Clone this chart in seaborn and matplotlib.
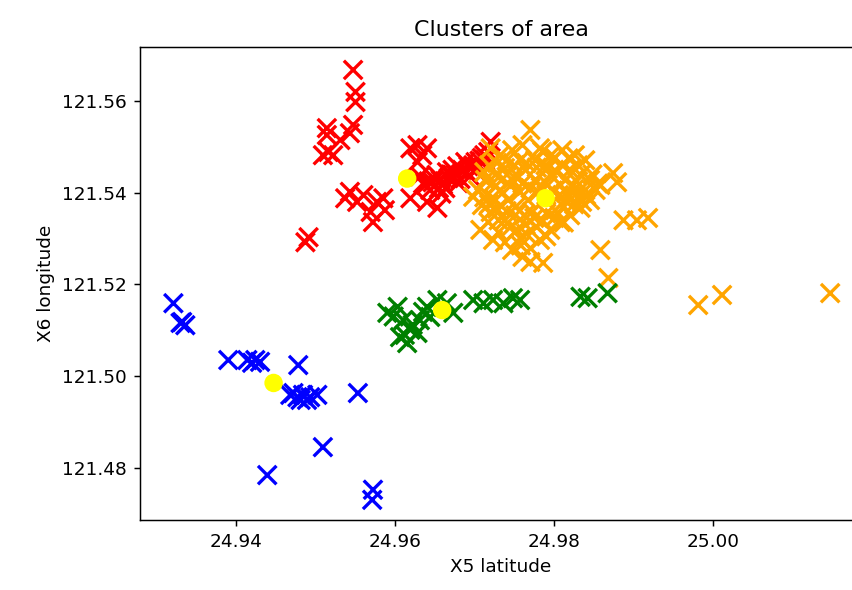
import matplotlib
matplotlib.use("Agg")
import matplotlib.pyplot as plt
import seaborn as sns
import pandas as pd

# ---- data ----
red_lat = [24.9547, 24.9550, 24.9550, 24.9547, 24.9543, 24.9514, 24.9514, 24.9516, 24.9509, 24.9522,
           24.9531, 24.9628, 24.9640, 24.9619, 24.9634, 24.9628, 24.9619, 24.9640, 24.9653, 24.9543,
           24.9560, 24.9577, 24.9585, 24.9569, 24.9572, 24.9552, 24.9537, 24.9587, 24.9491, 24.9487,
           24.9720, 24.9638, 24.9647, 24.9657, 24.9667, 24.9676, 24.9684, 24.9692, 24.9701, 24.9709,
           24.9717, 24.9644, 24.9663, 24.9679, 24.9694, 24.9704, 24.9713, 24.9631, 24.9652, 24.9672,
           24.9688, 24.9642, 24.9660, 24.9670, 24.9682, 24.9690, 24.9698, 24.9706, 24.9712, 24.9655,
           24.9648, 24.9665, 24.9678, 24.9700, 24.9635, 24.9658]
red_lon = [121.5668, 121.5620, 121.5598, 121.5548, 121.5530, 121.5541, 121.5526, 121.5489, 121.5482, 121.5482,
           121.5515, 121.5504, 121.5497, 121.5497, 121.5482, 121.5467, 121.5388, 121.5380, 121.5367, 121.5402,
           121.5395, 121.5380, 121.5388, 121.5358, 121.5336, 121.5380, 121.5388, 121.5362, 121.5303, 121.5292,
           121.5511, 121.5417, 121.5423, 121.5428, 121.5432, 121.5439, 121.5450, 121.5458, 121.5467, 121.5476,
           121.5489, 121.5406, 121.5410, 121.5421, 121.5436, 121.5454, 121.5471, 121.5436, 121.5439, 121.5450,
           121.5467, 121.5425, 121.5418, 121.5440, 121.5430, 121.5445, 121.5460, 121.5470, 121.5482, 121.5410,
           121.5432, 121.5445, 121.5458, 121.5450, 121.5420, 121.5398]

orange_lat = [24.9770, 24.9720, 24.9732, 24.9747, 24.9757, 24.9738, 24.9726, 24.9713, 24.9704, 24.9698,
              24.9709, 24.9720, 24.9707, 24.9717, 24.9730, 24.9738, 24.9747, 24.9757, 24.9764, 24.9751,
              24.9742, 24.9732, 24.9747, 24.9764, 24.9776, 24.9789, 24.9801, 24.9810, 24.9820, 24.9833,
              24.9845, 24.9839, 24.9826, 24.9814, 24.9801, 24.9808, 24.9820, 24.9833, 24.9845, 24.9852,
              24.9792, 24.9780, 24.9767, 24.9772, 24.9785, 24.9795, 24.9782, 24.9770, 24.9760, 24.9770,
              24.9786, 24.9776, 24.9757, 24.9726, 24.9808, 24.9823, 24.9839, 24.9826, 24.9810, 24.9795,
              24.9753, 24.9738, 24.9723, 24.9716, 24.9858, 24.9874, 24.9879, 24.9858, 24.9868, 24.9887,
              24.9904, 24.9918, 24.9981, 25.0011, 25.0147, 24.9782, 24.9760,
              24.9712, 24.9722, 24.9735, 24.9745, 24.9752, 24.9760, 24.9770, 24.9783, 24.9790, 24.9798,
              24.9805, 24.9815, 24.9825, 24.9830, 24.9840, 24.9828, 24.9815, 24.9803, 24.9790, 24.9778,
              24.9765, 24.9750, 24.9740, 24.9728, 24.9718, 24.9712, 24.9718, 24.9728, 24.9740, 24.9752,
              24.9762, 24.9775, 24.9790, 24.9800, 24.9812, 24.9825, 24.9835, 24.9765, 24.9778, 24.9745,
              24.9730, 24.9758, 24.9790, 24.9812, 24.9795, 24.9785, 24.9818, 24.9830, 24.9848, 24.9855]
orange_lon = [121.5537, 121.5497, 121.5482, 121.5493, 121.5471, 121.5454, 121.5439, 121.5428, 121.5406, 121.5391,
              121.5373, 121.5358, 121.5319, 121.5336, 121.5314, 121.5292, 121.5275, 121.5301, 121.5330, 121.5351,
              121.5384, 121.5406, 121.5428, 121.5450, 121.5471, 121.5460, 121.5476, 121.5460, 121.5450, 121.5439,
              121.5428, 121.5406, 121.5395, 121.5384, 121.5362, 121.5336, 121.5351, 121.5367, 121.5384, 121.5406,
              121.5417, 121.5402, 121.5384, 121.5358, 121.5340, 121.5319, 121.5297, 121.5279, 121.5260, 121.5249,
              121.5247, 121.5428, 121.5402, 121.5384, 121.5417, 121.5417, 121.5471, 121.5482, 121.5493, 121.5439,
              121.5319, 121.5340, 121.5297, 121.5395, 121.5417, 121.5443, 121.5423, 121.5275, 121.5214, 121.5340,
              121.5340, 121.5345, 121.5155, 121.5177, 121.5181, 121.5497, 121.5504,
              121.5445, 121.5420, 121.5430, 121.5415, 121.5440, 121.5420, 121.5410, 121.5412, 121.5395, 121.5405,
              121.5392, 121.5400, 121.5408, 121.5390, 121.5395, 121.5425, 121.5430, 121.5445, 121.5450, 121.5455,
              121.5465, 121.5460, 121.5470, 121.5465, 121.5460, 121.5390, 121.5375, 121.5365, 121.5360, 121.5370,
              121.5350, 121.5345, 121.5355, 121.5345, 121.5370, 121.5375, 121.5380, 121.5310, 121.5325, 121.5325,
              121.5340, 121.5285, 121.5305, 121.5335, 121.5480, 121.5490, 121.5475, 121.5460, 121.5440, 121.5420]

green_lat = [24.9590, 24.9603, 24.9610, 24.9606, 24.9615, 24.9619, 24.9631, 24.9640, 24.9653, 24.9665,
             24.9673, 24.9644, 24.9628, 24.9698, 24.9711, 24.9723, 24.9736, 24.9748, 24.9757, 24.9833,
             24.9842, 24.9867, 24.9598, 24.9622, 24.9635, 24.9612]
green_lon = [121.5138, 121.5151, 121.5122, 121.5085, 121.5072, 121.5101, 121.5122, 121.5151, 121.5166, 121.5159,
             121.5138, 121.5129, 121.5094, 121.5166, 121.5159, 121.5166, 121.5159, 121.5170, 121.5166, 121.5173,
             121.5170, 121.5181, 121.5130, 121.5112, 121.5140, 121.5090]

blue_lat = [24.9321, 24.9332, 24.9336, 24.9330, 24.9390, 24.9414, 24.9424, 24.9430, 24.9420, 24.9478,
            24.9468, 24.9477, 24.9484, 24.9493, 24.9502, 24.9481, 24.9489, 24.9472, 24.9553, 24.9509,
            24.9439, 24.9572, 24.9571]
blue_lon = [121.5159, 121.5118, 121.5111, 121.5116, 121.5035, 121.5035, 121.5035, 121.5031, 121.5029, 121.5024,
            121.4959, 121.4954, 121.4959, 121.4954, 121.4959, 121.4948, 121.4948, 121.4963, 121.4963, 121.4845,
            121.4784, 121.4752, 121.4730]

centroid_lat = [24.9615, 24.9789, 24.9659, 24.9447]
centroid_lon = [121.5431, 121.5388, 121.5144, 121.4985]

clusters = ["red", "blue", "orange", "green"]
palette = {"red": "red", "blue": "blue", "orange": "orange", "green": "green"}

lat_map = {"red": red_lat, "orange": orange_lat, "green": green_lat, "blue": blue_lat}
lon_map = {"red": red_lon, "orange": orange_lon, "green": green_lon, "blue": blue_lon}

rows = []
for c in clusters:
    for a, b in zip(lat_map[c], lon_map[c]):
        rows.append({"lat": a, "lon": b, "cluster": c})
df = pd.DataFrame(rows)
cent = pd.DataFrame({"lat": centroid_lat, "lon": centroid_lon})

DPI = 133
fig = plt.figure(figsize=(852 / DPI, 590 / DPI), dpi=DPI)
ax = fig.add_axes([140 / 852, 1 - 520 / 590, 722 / 852, 473 / 590])

sns.scatterplot(data=df, x="lat", y="lon", hue="cluster", hue_order=clusters,
                palette=palette, marker="x", s=100, linewidth=1.8, legend=False, ax=ax)
sns.scatterplot(data=cent, x="lat", y="lon", color="yellow", marker="o", s=100,
                edgecolor="none", ax=ax, zorder=3)

ax.set_xlim(24.9279, 25.0187)
ax.set_ylim(121.4686, 121.5718)
ax.set_xticks([24.94, 24.96, 24.98, 25.00])
ax.set_yticks([121.48, 121.50, 121.52, 121.54, 121.56])
ax.set_xticklabels(["24.94", "24.96", "24.98", "25.00"])
ax.set_yticklabels(["121.48", "121.50", "121.52", "121.54", "121.56"])
ax.set_title("Clusters of area")
ax.set_xlabel("X5 latitude")
ax.set_ylabel("X6 longitude")

fig.savefig("out.png", dpi=DPI)
